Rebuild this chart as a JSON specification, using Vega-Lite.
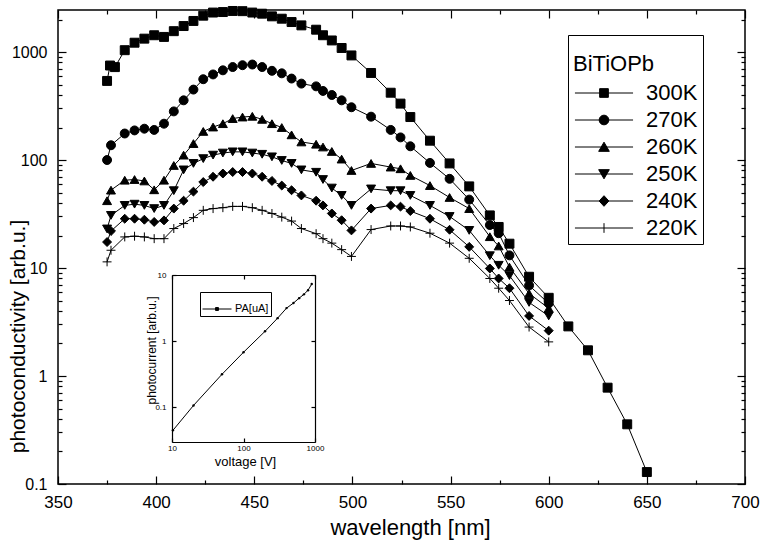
{
"$schema": "https://vega.github.io/schema/vega-lite/v6.json",
"width": 687, "height": 474,
"autosize": {"type": "none"},
"padding": {"left": 58, "top": 10, "right": 17, "bottom": 56},
"background": "white",
"config": {
  "view": {"stroke": "black", "strokeWidth": 1.5},
  "font": "Liberation Sans",
  "axis": {"grid": false, "domain": false, "tickColor": "black", "tickWidth": 1.2, "labelColor": "black", "titleColor": "black", "labelFont": "Liberation Sans", "titleFont": "Liberation Sans", "titleFontWeight": "normal", "labelFlush": false, "labelOverlap": false},
  "legend": {"labelFont": "Liberation Sans", "titleFont": "Liberation Sans", "titleFontWeight": "normal", "labelColor": "black", "titleColor": "black"}
},
"datasets": {
  "main": [
    {"series":"300K","wavelength":375,"value":540},{"series":"300K","wavelength":376.5,"value":750},{"series":"300K","wavelength":379,"value":725},{"series":"300K","wavelength":384,"value":1040},{"series":"300K","wavelength":389,"value":1220},{"series":"300K","wavelength":394,"value":1330},{"series":"300K","wavelength":399,"value":1430},{"series":"300K","wavelength":404,"value":1380},{"series":"300K","wavelength":409,"value":1560},{"series":"300K","wavelength":414,"value":1740},{"series":"300K","wavelength":419,"value":1940},{"series":"300K","wavelength":424,"value":2170},{"series":"300K","wavelength":429,"value":2320},{"series":"300K","wavelength":434,"value":2345},{"series":"300K","wavelength":439,"value":2400},{"series":"300K","wavelength":444,"value":2390},{"series":"300K","wavelength":449,"value":2320},{"series":"300K","wavelength":454,"value":2265},{"series":"300K","wavelength":459,"value":2140},{"series":"300K","wavelength":464,"value":2035},{"series":"300K","wavelength":469,"value":1895},{"series":"300K","wavelength":474,"value":1765},{"series":"300K","wavelength":481.5,"value":1610},{"series":"300K","wavelength":485,"value":1430},{"series":"300K","wavelength":489.5,"value":1280},{"series":"300K","wavelength":494.5,"value":1090},{"series":"300K","wavelength":499.5,"value":930},{"series":"300K","wavelength":509.5,"value":640},{"series":"300K","wavelength":519.5,"value":420},{"series":"300K","wavelength":524.5,"value":333},{"series":"300K","wavelength":529.5,"value":250},{"series":"300K","wavelength":539.5,"value":151},{"series":"300K","wavelength":549.5,"value":93},{"series":"300K","wavelength":559.5,"value":57},{"series":"300K","wavelength":570,"value":30.7},{"series":"300K","wavelength":574.5,"value":24},{"series":"300K","wavelength":580,"value":16.8},{"series":"300K","wavelength":590,"value":8.3},{"series":"300K","wavelength":600,"value":5.3},{"series":"300K","wavelength":610,"value":2.88},{"series":"300K","wavelength":620,"value":1.73},{"series":"300K","wavelength":630,"value":0.78},{"series":"300K","wavelength":640,"value":0.357},{"series":"300K","wavelength":650,"value":0.129},
    {"series":"270K","wavelength":375,"value":100},{"series":"270K","wavelength":377,"value":137},{"series":"270K","wavelength":384,"value":176},{"series":"270K","wavelength":389,"value":188},{"series":"270K","wavelength":394,"value":195},{"series":"270K","wavelength":399,"value":190},{"series":"270K","wavelength":404,"value":217},{"series":"270K","wavelength":409,"value":282},{"series":"270K","wavelength":414,"value":357},{"series":"270K","wavelength":419,"value":449},{"series":"270K","wavelength":424,"value":560},{"series":"270K","wavelength":429,"value":620},{"series":"270K","wavelength":434,"value":677},{"series":"270K","wavelength":439,"value":726},{"series":"270K","wavelength":444,"value":755},{"series":"270K","wavelength":449,"value":766},{"series":"270K","wavelength":454,"value":726},{"series":"270K","wavelength":459,"value":670},{"series":"270K","wavelength":464,"value":635},{"series":"270K","wavelength":469,"value":568},{"series":"270K","wavelength":474,"value":510},{"series":"270K","wavelength":481.5,"value":481},{"series":"270K","wavelength":485,"value":436},{"series":"270K","wavelength":489.5,"value":400},{"series":"270K","wavelength":494.5,"value":357},{"series":"270K","wavelength":499.5,"value":308},{"series":"270K","wavelength":509.5,"value":252},{"series":"270K","wavelength":519.5,"value":190},{"series":"270K","wavelength":524.5,"value":162},{"series":"270K","wavelength":529.5,"value":134},{"series":"270K","wavelength":539.5,"value":94},{"series":"270K","wavelength":549.5,"value":67},{"series":"270K","wavelength":559.5,"value":43},{"series":"270K","wavelength":570,"value":25},{"series":"270K","wavelength":574.5,"value":21},{"series":"270K","wavelength":580,"value":13.1},{"series":"270K","wavelength":590,"value":6.9},{"series":"270K","wavelength":600,"value":4.7},
    {"series":"260K","wavelength":375,"value":42},{"series":"260K","wavelength":377,"value":52.6},{"series":"260K","wavelength":384,"value":65},{"series":"260K","wavelength":389,"value":66},{"series":"260K","wavelength":394,"value":64},{"series":"260K","wavelength":399,"value":53},{"series":"260K","wavelength":404,"value":65},{"series":"260K","wavelength":409,"value":89},{"series":"260K","wavelength":414,"value":111},{"series":"260K","wavelength":419,"value":142},{"series":"260K","wavelength":424,"value":184},{"series":"260K","wavelength":429,"value":202},{"series":"260K","wavelength":434,"value":217},{"series":"260K","wavelength":439,"value":242},{"series":"260K","wavelength":444,"value":250},{"series":"260K","wavelength":449,"value":254},{"series":"260K","wavelength":454,"value":238},{"series":"260K","wavelength":459,"value":217},{"series":"260K","wavelength":464,"value":200},{"series":"260K","wavelength":469,"value":171},{"series":"260K","wavelength":474,"value":147},{"series":"260K","wavelength":481.5,"value":140},{"series":"260K","wavelength":485,"value":132},{"series":"260K","wavelength":489.5,"value":120},{"series":"260K","wavelength":494.5,"value":102},{"series":"260K","wavelength":499.5,"value":80},{"series":"260K","wavelength":509.5,"value":93},{"series":"260K","wavelength":519.5,"value":86},{"series":"260K","wavelength":524.5,"value":83},{"series":"260K","wavelength":529.5,"value":72},{"series":"260K","wavelength":539.5,"value":58},{"series":"260K","wavelength":549.5,"value":45},{"series":"260K","wavelength":559.5,"value":35.5},{"series":"260K","wavelength":570,"value":19.5},{"series":"260K","wavelength":574.5,"value":16},{"series":"260K","wavelength":580,"value":10.2},{"series":"260K","wavelength":590,"value":5.8},{"series":"260K","wavelength":600,"value":4.24},
    {"series":"250K","wavelength":375,"value":23},{"series":"250K","wavelength":377,"value":30.7},{"series":"250K","wavelength":384,"value":38},{"series":"250K","wavelength":389,"value":39},{"series":"250K","wavelength":394,"value":38},{"series":"250K","wavelength":399,"value":35.5},{"series":"250K","wavelength":404,"value":38},{"series":"250K","wavelength":409,"value":52},{"series":"250K","wavelength":414,"value":81},{"series":"250K","wavelength":419,"value":93},{"series":"250K","wavelength":424,"value":103},{"series":"250K","wavelength":429,"value":111},{"series":"250K","wavelength":434,"value":116},{"series":"250K","wavelength":439,"value":119},{"series":"250K","wavelength":444,"value":119},{"series":"250K","wavelength":449,"value":116},{"series":"250K","wavelength":454,"value":113},{"series":"250K","wavelength":459,"value":107},{"series":"250K","wavelength":464,"value":99},{"series":"250K","wavelength":469,"value":93},{"series":"250K","wavelength":474,"value":81},{"series":"250K","wavelength":481.5,"value":77},{"series":"250K","wavelength":485,"value":66},{"series":"250K","wavelength":489.5,"value":55},{"series":"250K","wavelength":494.5,"value":47},{"series":"250K","wavelength":499.5,"value":38},{"series":"250K","wavelength":509.5,"value":54},{"series":"250K","wavelength":519.5,"value":52},{"series":"250K","wavelength":524.5,"value":52},{"series":"250K","wavelength":529.5,"value":47},{"series":"250K","wavelength":539.5,"value":38},{"series":"250K","wavelength":549.5,"value":30},{"series":"250K","wavelength":559.5,"value":22.3},{"series":"250K","wavelength":570,"value":13},{"series":"250K","wavelength":574.5,"value":10.6},{"series":"250K","wavelength":580,"value":8.5},{"series":"250K","wavelength":590,"value":4.8},{"series":"250K","wavelength":600,"value":3.6},
    {"series":"240K","wavelength":375,"value":17.4},{"series":"240K","wavelength":377,"value":22},{"series":"240K","wavelength":384,"value":28.6},{"series":"240K","wavelength":389,"value":28.6},{"series":"240K","wavelength":394,"value":28},{"series":"240K","wavelength":399,"value":26.7},{"series":"240K","wavelength":404,"value":27.6},{"series":"240K","wavelength":409,"value":35.5},{"series":"240K","wavelength":414,"value":42},{"series":"240K","wavelength":419,"value":51},{"series":"240K","wavelength":424,"value":62.5},{"series":"240K","wavelength":429,"value":70},{"series":"240K","wavelength":434,"value":75},{"series":"240K","wavelength":439,"value":77.4},{"series":"240K","wavelength":444,"value":77.4},{"series":"240K","wavelength":449,"value":75},{"series":"240K","wavelength":454,"value":70},{"series":"240K","wavelength":459,"value":64},{"series":"240K","wavelength":464,"value":58},{"series":"240K","wavelength":469,"value":52.5},{"series":"240K","wavelength":474,"value":47},{"series":"240K","wavelength":481.5,"value":42},{"series":"240K","wavelength":485,"value":38},{"series":"240K","wavelength":489.5,"value":32},{"series":"240K","wavelength":494.5,"value":27.7},{"series":"240K","wavelength":499.5,"value":22.3},{"series":"240K","wavelength":509.5,"value":35.5},{"series":"240K","wavelength":519.5,"value":38},{"series":"240K","wavelength":524.5,"value":37},{"series":"240K","wavelength":529.5,"value":33.7},{"series":"240K","wavelength":539.5,"value":28.6},{"series":"240K","wavelength":549.5,"value":22.6},{"series":"240K","wavelength":559.5,"value":15.7},{"series":"240K","wavelength":570,"value":9.9},{"series":"240K","wavelength":574.5,"value":8},{"series":"240K","wavelength":580,"value":6.5},{"series":"240K","wavelength":590,"value":3.6},{"series":"240K","wavelength":600,"value":2.63},
    {"series":"220K","wavelength":375,"value":11.4},{"series":"220K","wavelength":377,"value":14.6},{"series":"220K","wavelength":384,"value":19.4},{"series":"220K","wavelength":389,"value":19.7},{"series":"220K","wavelength":394,"value":19.4},{"series":"220K","wavelength":399,"value":18.7},{"series":"220K","wavelength":404,"value":18.7},{"series":"220K","wavelength":409,"value":23.2},{"series":"220K","wavelength":414,"value":25.8},{"series":"220K","wavelength":419,"value":29.3},{"series":"220K","wavelength":424,"value":34.2},{"series":"220K","wavelength":429,"value":35.5},{"series":"220K","wavelength":434,"value":36.2},{"series":"220K","wavelength":439,"value":37.2},{"series":"220K","wavelength":444,"value":37.2},{"series":"220K","wavelength":449,"value":36.2},{"series":"220K","wavelength":454,"value":34.2},{"series":"220K","wavelength":459,"value":32},{"series":"220K","wavelength":464,"value":29.6},{"series":"220K","wavelength":469,"value":27.2},{"series":"220K","wavelength":474,"value":23.2},{"series":"220K","wavelength":481.5,"value":20.8},{"series":"220K","wavelength":485,"value":18.7},{"series":"220K","wavelength":489.5,"value":17},{"series":"220K","wavelength":494.5,"value":14.8},{"series":"220K","wavelength":499.5,"value":12.8},{"series":"220K","wavelength":509.5,"value":22.7},{"series":"220K","wavelength":519.5,"value":24.5},{"series":"220K","wavelength":524.5,"value":24.5},{"series":"220K","wavelength":529.5,"value":24},{"series":"220K","wavelength":539.5,"value":21},{"series":"220K","wavelength":549.5,"value":17},{"series":"220K","wavelength":559.5,"value":12.3},{"series":"220K","wavelength":570,"value":8},{"series":"220K","wavelength":574.5,"value":6.5},{"series":"220K","wavelength":580,"value":5},{"series":"220K","wavelength":590,"value":2.84},{"series":"220K","wavelength":600,"value":2.07}
  ],
  "inset": [
    {"label":"PA[uA]","voltage":10.3,"current":0.045},{"label":"PA[uA]","voltage":20,"current":0.107},{"label":"PA[uA]","voltage":50,"current":0.316},{"label":"PA[uA]","voltage":100,"current":0.68},{"label":"PA[uA]","voltage":200,"current":1.41},{"label":"PA[uA]","voltage":300,"current":2.23},{"label":"PA[uA]","voltage":400,"current":3.16},{"label":"PA[uA]","voltage":500,"current":3.77},{"label":"PA[uA]","voltage":600,"current":4.47},{"label":"PA[uA]","voltage":700,"current":5.1},{"label":"PA[uA]","voltage":800,"current":5.9},{"label":"PA[uA]","voltage":900,"current":7.3}
  ]
},
"layer": [
  {
    "data": {"name": "main"},
    "layer": [
      {
        "mark": {"type": "line", "color": "black", "strokeWidth": 1},
        "encoding": {
          "x": {"field": "wavelength", "type": "quantitative", "scale": {"domain": [350, 700], "nice": false, "zero": false},
                "axis": {"orient": "bottom", "values": [350,400,450,500,550,600,650,700], "format": "d", "tickSize": -8, "labelFontSize": 17, "labelPadding": 18, "title": "wavelength [nm]", "titleFontSize": 22, "titleX": 352, "titleY": 33, "titleBaseline": "top", "titleAlign": "center"}},
          "y": {"field": "value", "type": "quantitative", "scale": {"type": "log", "domain": [0.1, 2450], "nice": false},
                "axis": {"orient": "left", "values": [0.1,1,10,100,1000], "format": "~g", "tickSize": -8, "labelFontSize": 16, "labelPadding": 19, "title": "photoconductivity  [arb.u.]", "titleFontSize": 21, "titleX": -40, "titleY": 326, "titleBaseline": "middle", "titleAlign": "center", "titleAngle": 270}},
          "detail": {"field": "series"}
        }
      },
      {
        "mark": {"type": "point", "size": 80, "stroke": "black", "strokeWidth": 1, "opacity": 1},
        "encoding": {
          "x": {"field": "wavelength", "type": "quantitative", "axis": {"orient": "top", "values": [350,400,450,500,550,600,650,700], "tickSize": -8, "labels": false, "title": null}},
          "y": {"field": "value", "type": "quantitative", "axis": {"orient": "right", "values": [0.1,1,10,100,1000], "tickSize": -8, "labels": false, "title": null}},
          "shape": {"field": "series", "type": "nominal", "scale": {"domain": ["300K","270K","260K","250K","240K","220K"], "range": ["square","circle","triangle-up","triangle-down","diamond","M-1,0H1M0,-1V1"]}, "legend": null},
          "fill": {"condition": {"test": "datum.series === '220K'", "value": "transparent"}, "value": "black"}
        }
      },
      {
        "mark": {"type": "point", "filled": false, "fill": "black", "stroke": "black", "strokeWidth": 1, "opacity": 0},
        "encoding": {
          "x": {"field": "wavelength", "type": "quantitative", "axis": {"orient": "bottom", "values": [375,425,475,525,575,625,675], "tickSize": -4, "labels": false, "title": null}},
          "y": {"field": "value", "type": "quantitative", "axis": {"orient": "left", "values": [0.2,0.3,0.4,0.5,0.6,0.7,0.8,0.9,2,3,4,5,6,7,8,9,20,30,40,50,60,70,80,90,200,300,400,500,600,700,800,900,2000], "tickSize": -4, "labels": false, "title": null}},
          "shape": {"field": "series", "type": "nominal",
                    "scale": {"domain": ["300K","270K","260K","250K","240K","220K"],
                              "range": ["M-3,0H3M-0.45,-0.45H0.45V0.45H-0.45Z",
                                        "M-3,0H3M-0.5,0A0.5,0.5,0,1,0,0.5,0A0.5,0.5,0,1,0,-0.5,0Z",
                                        "M-3,0H3M0,-0.5L0.55,0.45H-0.55Z",
                                        "M-3,0H3M0,0.5L0.55,-0.45H-0.55Z",
                                        "M-3,0H3M0,-0.55L0.5,0L0,0.55L-0.5,0Z",
                                        "M-3,0H3M0,-0.5V0.5"]},
                    "legend": {"orient": "none", "legendX": 510, "legendY": 25, "title": ["", "BiTiOPb"], "titleFontSize": 22, "titleLineHeight": 14, "titlePadding": 6, "labelFontSize": 22, "symbolSize": 375, "symbolStrokeWidth": 1, "symbolOpacity": 1, "rowPadding": 5, "padding": 5, "strokeColor": "black", "symbolOffset": 20, "labelOffset": 31}}
        }
      },
      {
        "mark": {"type": "point", "opacity": 0},
        "encoding": {
          "x": {"field": "wavelength", "type": "quantitative", "axis": {"orient": "top", "values": [375,425,475,525,575,625,675], "tickSize": -4, "labels": false, "title": null}},
          "y": {"field": "value", "type": "quantitative", "axis": {"orient": "right", "values": [0.2,0.3,0.4,0.5,0.6,0.7,0.8,0.9,2,3,4,5,6,7,8,9,20,30,40,50,60,70,80,90,200,300,400,500,600,700,800,900,2000], "tickSize": -4, "labels": false, "title": null}}
        }
      }
    ],
    "resolve": {"axis": {"x": "independent", "y": "independent"}, "scale": {"shape": "independent"}}
  },
  {
    "data": {"name": "inset"},
    "layer": [
      {
        "mark": {"type": "line", "color": "black", "strokeWidth": 1},
        "encoding": {
          "x": {"field": "voltage", "type": "quantitative", "scale": {"type": "log", "domain": [10, 1000], "range": [114, 257], "nice": false},
                "axis": {"orient": "bottom", "offset": -42, "values": [10,100,1000], "format": "~g", "domain": true, "domainColor": "black", "domainWidth": 1.2, "tickSize": -4, "labelFontSize": 8, "labelPadding": 6, "title": "voltage [V]", "titleFontSize": 13, "titleX": 187, "titleY": 13, "titleBaseline": "top", "titleAlign": "center"}},
          "y": {"field": "current", "type": "quantitative", "scale": {"type": "log", "domain": [0.03, 10], "range": [432, 265], "nice": false},
                "axis": {"orient": "left", "offset": -114, "values": [0.1,1,10], "format": "~g", "domain": true, "domainColor": "black", "domainWidth": 1.2, "tickSize": -4, "labelFontSize": 8, "labelPadding": 10, "title": "photocurrent  [arb.u.]", "titleFontSize": 12, "titleX": -21, "titleY": 340, "titleBaseline": "middle", "titleAlign": "center", "titleAngle": 270}},
          "color": {"field": "label", "type": "nominal", "scale": {"range": ["black"]},
                    "legend": {"orient": "none", "legendX": 142, "legendY": 282, "title": null, "symbolType": "M-1,0H1M-0.1,-0.1H0.1V0.1H-0.1Z", "symbolSize": 841, "symbolStrokeWidth": 1, "symbolFillColor": "black", "labelFontSize": 11, "padding": 2, "strokeColor": "black", "labelOffset": 3}}
        }
      },
      {
        "mark": {"type": "point", "filled": true, "color": "black", "size": 6, "opacity": 1},
        "encoding": {
          "x": {"field": "voltage", "type": "quantitative", "axis": {"orient": "top", "offset": -265, "values": [10,100,1000], "domain": true, "domainColor": "black", "domainWidth": 1.2, "tickSize": -4, "labels": false, "title": null}},
          "y": {"field": "current", "type": "quantitative", "axis": {"orient": "right", "offset": -430, "values": [0.1,1,10], "domain": true, "domainColor": "black", "domainWidth": 1.2, "tickSize": -4, "labels": false, "title": null}}
        }
      }
    ],
    "resolve": {"axis": {"x": "independent", "y": "independent"}}
  }
],
"resolve": {"scale": {"x": "independent", "y": "independent"}}
}
